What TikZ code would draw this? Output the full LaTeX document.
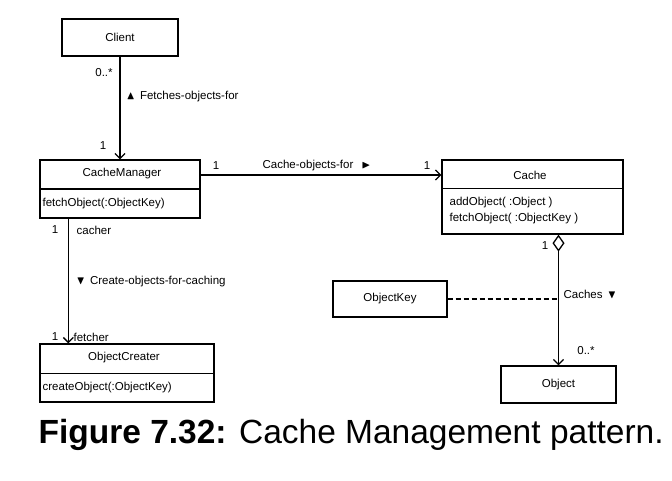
\documentclass[tikz,border=0pt]{standalone}
\usepackage{amssymb}
\usepackage{amsmath}
\usepackage{fontspec}
\setmainfont{Liberation Sans}
\usetikzlibrary{arrows.meta}

\begin{document}
\begin{tikzpicture}[x=1pt,y=-1pt,line width=1.3pt,font=\fontsize{11.5}{13}\selectfont]
\tikzstyle{every node}+=[inner sep=0pt]
\tikzstyle{box}=[draw=black, rectangle]
\tikzstyle{assoc}=[-{Straight Barb[length=5pt,width=10pt]}]
\useasboundingbox (0,0) rectangle (672,480);
\node [box, minimum width=116, minimum height=37] (client) at (120,37.5) {Client};
\node [box, minimum width=160, minimum height=58] (cm) at (120,189) {};
\draw (cm.west) -- (cm.east);
\node (cmname) at (122,174) {CacheManager};
\node [anchor=west] (cmop) at (42,204) {fetchObject(:ObjectKey)};
\node [box, minimum width=174, minimum height=58] (oc) at (127,373) {};
\draw ([yshift=-30pt]oc.north west) -- ([yshift=-30pt]oc.north east);
\node (ocname) at (124,358) {ObjectCreater};
\node [anchor=west] (ocop) at (42,388) {createObject(:ObjectKey)};
\node [box, minimum width=181, minimum height=74] (cac) at (532.5,197) {};
\draw ([yshift=-29pt]cac.north west) -- ([yshift=-29pt]cac.north east);
\node (cacname) at (530,175) {Cache};
\node [anchor=west] (cacop1) at (449,203) {addObject( :Object )};
\node [anchor=west] (cacop2) at (449,219) {fetchObject( :ObjectKey )};
\node [box, minimum width=114, minimum height=36] (ok) at (390,299) {ObjectKey};
\node [box, minimum width=115, minimum height=37] (obj) at (558.5,384.5) {Object};
\draw [assoc] (client) -- (cm);
\draw (104,73) node (m1) {0..*};
\draw (126,97) node [anchor=west] (l1) {$\blacktriangle$\, Fetches-objects-for};
\draw (103,146) node (m2) {1};
\draw [assoc] ([yshift=14pt]cm.east) -- ([yshift=14pt]cm.east -| cac.west);
\draw (216,166) node (m3) {1};
\draw (262,166) node [anchor=west] (l2) {Cache-objects-for \, $\blacktriangleright$};
\draw (427,166) node (m4) {1};
\draw [assoc] ([xshift=29pt]cm.south west) -- ([xshift=29pt]oc.north west);
\draw (55,230) node (m5) {1};
\draw (76,230) node [anchor=west] (r1) {cacher};
\draw (76,282) node [anchor=west] (l3) {$\blacktriangledown$\, Create-objects-for-caching};
\draw (55,337) node (m6) {1};
\draw (73,337) node [anchor=west] (r2) {fetcher};
\draw [{Diamond[open,length=17pt,width=12pt]}-{Straight Barb[length=5pt,width=10pt]}] (obj.north |- cac.south) -- (obj.north);
\draw (545,246) node (m7) {1};
\draw (563,294) node [anchor=west] (l4) {Caches \,$\blacktriangledown$};
\draw (586,351) node (m8) {0..*};
\draw [dash pattern=on 5pt off 3pt] (ok.east) -- (ok.east -| obj.north);
\draw (38,443) node [anchor=base west, font=\fontsize{33.5}{36}\selectfont] (cap) {\textbf{Figure 7.32:} Cache Management pattern.};
\end{tikzpicture}
\end{document}
